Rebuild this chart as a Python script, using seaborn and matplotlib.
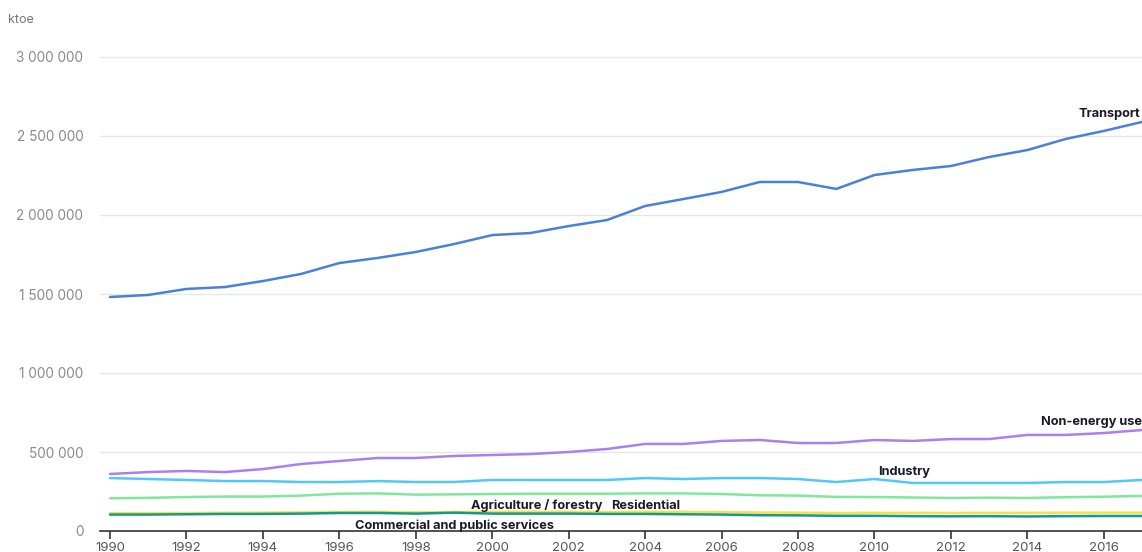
import numpy as np
import pandas as pd
import matplotlib
matplotlib.use("Agg")
import matplotlib.pyplot as plt
import seaborn as sns

years = list(range(1990, 2018))

transport = [1481000, 1494000, 1532000, 1544000, 1582000, 1627000, 1696000, 1728000,
             1766000, 1816000, 1873000, 1886000, 1930000, 1968000, 2057000, 2101000,
             2146000, 2209000, 2209000, 2165000, 2253000, 2285000, 2310000, 2367000,
             2411000, 2481000, 2532000, 2589000]
non_energy = [361000, 373000, 380000, 373000, 392000, 424000, 443000, 462000,
              462000, 475000, 481000, 487000, 500000, 519000, 551000, 551000,
              570000, 576000, 557000, 557000, 576000, 570000, 582000, 582000,
              608000, 608000, 620000, 639000]
industry = [335000, 329000, 323000, 316000, 316000, 310000, 310000, 316000,
            310000, 310000, 323000, 323000, 323000, 323000, 335000, 329000,
            335000, 335000, 329000, 310000, 329000, 304000, 304000, 304000,
            304000, 310000, 310000, 323000]
residential = [207000, 210000, 215000, 218000, 218000, 224000, 236000, 238000,
               230000, 232000, 234000, 236000, 236000, 236000, 238000, 238000,
               234000, 226000, 224000, 216000, 215000, 212000, 209000, 211000,
               209000, 214000, 217000, 222000]
agriculture = [113000, 113000, 114000, 115000, 116000, 118000, 120000, 121000,
               118000, 120000, 121000, 122000, 121000, 120000, 121000, 121000,
               120000, 117000, 116000, 114000, 115000, 115000, 114000, 115000,
               115000, 116000, 116000, 116000]
commercial = [104000, 104000, 106000, 108000, 108000, 110000, 114000, 114000,
              110000, 116000, 110000, 110000, 110000, 108000, 108000, 106000,
              104000, 100000, 99000, 96000, 96000, 94000, 93000, 94000,
              92000, 94000, 95000, 95000]

series = {
    "Transport": transport,
    "Non-energy use": non_energy,
    "Industry": industry,
    "Residential": residential,
    "Agriculture / forestry": agriculture,
    "Commercial and public services": commercial,
}
colors = {
    "Transport": "#4a80dc",
    "Non-energy use": "#a980f0",
    "Industry": "#52c8f7",
    "Residential": "#7fe89c",
    "Agriculture / forestry": "#f4e14e",
    "Commercial and public services": "#15998c",
}

rows = []
for name, vals in series.items():
    for y, v in zip(years, vals):
        rows.append({"year": y, "value": v, "sector": name})
df = pd.DataFrame(rows)

sns.set_theme(style="white")
plt.rcParams['font.family'] = ['Inter', 'DejaVu Sans']

fig = plt.figure(figsize=(11.42, 5.52), dpi=100)
ax = fig.add_axes([100/1142, 21/552, 1 - 100/1142, (531-50)/552])

sns.lineplot(data=df, x="year", y="value", hue="sector", palette=colors,
             linewidth=1.8, ax=ax, legend=False)

ax.set_xlim(1990 - 10/38.1, 2017)
ax.set_ylim(0, 3000000 * (481/474))
ax.set_yticks([0, 500000, 1000000, 1500000, 2000000, 2500000, 3000000])
ax.set_yticklabels(["0", "500 000", "1 000 000", "1 500 000", "2 000 000", "2 500 000", "3 000 000"])
ax.set_xticks(list(range(1990, 2017, 2)))
ax.set_xticklabels([str(y) for y in range(1990, 2017, 2)])
ax.tick_params(axis="y", length=0, labelsize=9.8, labelcolor="#8a8a8a", pad=12)
ax.tick_params(axis="x", length=6, width=1.2, color="#333333", direction="out",
               labelsize=9.5, labelcolor="#555555", pad=2, bottom=True)
ax.grid(axis="y", color="#e6e6e6", linewidth=1)
ax.grid(axis="x", visible=False)
for s in ["top", "right", "left"]:
    ax.spines[s].set_visible(False)
ax.spines["bottom"].set_color("#333333")
ax.spines["bottom"].set_linewidth(1.2)
ax.set_xlabel("")
ax.set_ylabel("")

fig.text(8/1142, 1 - 20/552, "ktoe", fontsize=9, color="#777777", va="center", ha="left")

lab = dict(fontsize=9.2, fontweight="bold", color="#1a1a2a", va="center")
ax.text(2016.95, 2642000, "Transport", ha="right", **lab)
ax.text(2017, 687000, "Non-energy use", ha="right", **lab)
ax.text(2010.1, 376000, "Industry", ha="left", **lab)
ax.text(1999.45, 160000, "Agriculture / forestry", ha="left", **lab)
ax.text(2003.1, 160000, "Residential", ha="left", **lab)
ax.text(1996.42, 33000, "Commercial and public services", ha="left", **lab)

fig.savefig("out.png", dpi=100)
